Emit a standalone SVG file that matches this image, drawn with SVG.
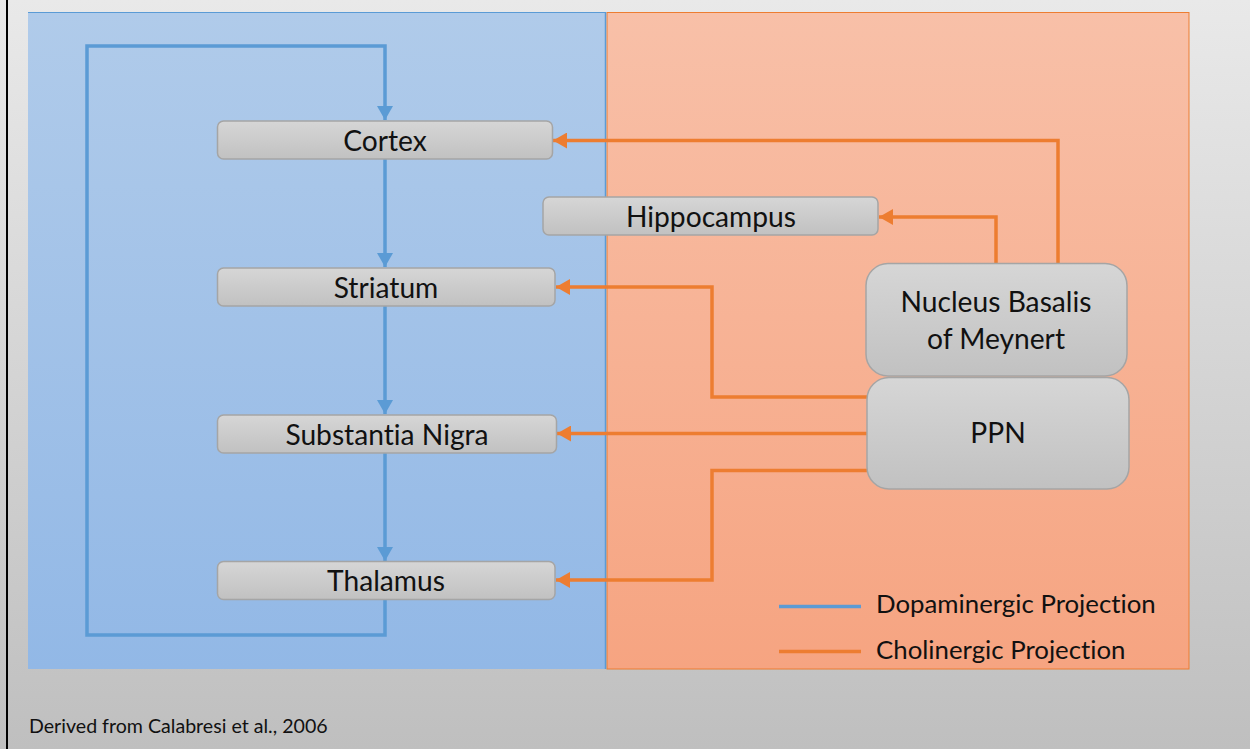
<svg xmlns="http://www.w3.org/2000/svg" width="1250" height="749" viewBox="0 0 1250 749">
<defs>
<linearGradient id="bg" x1="0" y1="0" x2="0" y2="1"><stop offset="0" stop-color="#e9e9e9"/><stop offset="1" stop-color="#bfbfbf"/></linearGradient>
<linearGradient id="bluebg" x1="0" y1="0" x2="0" y2="1"><stop offset="0" stop-color="#b0cbea"/><stop offset="1" stop-color="#92b8e6"/></linearGradient>
<linearGradient id="orbg" x1="0" y1="0" x2="0" y2="1"><stop offset="0" stop-color="#f8c0a8"/><stop offset="1" stop-color="#f6a481"/></linearGradient>
<linearGradient id="node" x1="0" y1="0" x2="0" y2="1"><stop offset="0" stop-color="#d6d6d6"/><stop offset="1" stop-color="#c1c1c1"/></linearGradient>
<marker id="ab" markerUnits="userSpaceOnUse" markerWidth="16" markerHeight="16" refX="14" refY="8" orient="auto"><path d="M0,0 L14,8 L0,16 Z" fill="#5b9bd5"/></marker>
<marker id="ao" markerUnits="userSpaceOnUse" markerWidth="16" markerHeight="16" refX="14" refY="8" orient="auto"><path d="M0,0 L14,8 L0,16 Z" fill="#ed7d31"/></marker>
<style>
text{font-family:Lato,"Liberation Sans",sans-serif;fill:#111;font-variant-ligatures:none}
.nd{fill:url(#node);stroke:#a5a5a5;stroke-width:1.5}
.t{font-size:28.2px;text-anchor:middle}
.bl{fill:none;stroke:#5b9bd5;stroke-width:3.5}
.or{fill:none;stroke:#ed7d31;stroke-width:3.5}
.lg{font-size:25.8px}
</style>
</defs>
<rect x="0" y="0" width="1250" height="749" fill="url(#bg)"/>
<rect x="6" y="0" width="2" height="749" fill="#000"/>
<g id="panels">
<rect x="28" y="12" width="578" height="657" fill="url(#bluebg)"/>
<line x1="28" y1="12.5" x2="606" y2="12.5" stroke="#5b9bd5" stroke-width="1"/>
<rect x="607" y="12.5" width="582" height="656.5" fill="url(#orbg)" stroke="#ed7d31" stroke-width="1"/>
<line x1="605.5" y1="12" x2="605.5" y2="669" stroke="#5b9bd5" stroke-width="1.5"/>
</g>
<g id="connectors">
<path class="bl" d="M385,599 V635 H87 V46 H385 V120" marker-end="url(#ab)"/>
<path class="bl" d="M385,159 V267" marker-end="url(#ab)"/>
<path class="bl" d="M385,306 V414" marker-end="url(#ab)"/>
<path class="bl" d="M385,453 V561" marker-end="url(#ab)"/>
<path class="or" d="M1058,263 V140.5 H553" marker-end="url(#ao)"/>
<path class="or" d="M996,263 V217 H879" marker-end="url(#ao)"/>
<path class="or" d="M867,397 H712 V287 H556" marker-end="url(#ao)"/>
<path class="or" d="M867,433.5 H557" marker-end="url(#ao)"/>
<path class="or" d="M867,470.5 H712 V580 H556" marker-end="url(#ao)"/>
</g>
<g id="cortex"><rect class="nd" x="217.5" y="121" width="335" height="38" rx="6"/><text class="t" x="385" y="150.5">Cortex</text></g>
<g id="hippocampus"><rect class="nd" x="543" y="197" width="335" height="38" rx="6"/><text class="t" x="711" y="226.5">Hippocampus</text></g>
<g id="striatum"><rect class="nd" x="217.5" y="268" width="337.5" height="38" rx="6"/><text class="t" x="386" y="297.5">Striatum</text></g>
<g id="substantia-nigra"><rect class="nd" x="217.5" y="415" width="339" height="38" rx="6"/><text class="t" x="387" y="444.5">Substantia Nigra</text></g>
<g id="thalamus"><rect class="nd" x="217.5" y="561.5" width="337.5" height="38" rx="6"/><text class="t" x="386" y="590.5">Thalamus</text></g>
<g id="nbm"><rect class="nd" x="866" y="263.5" width="261" height="112.5" rx="22"/><text class="t" x="996" y="311.5">Nucleus Basalis</text><text class="t" x="996" y="349">of Meynert</text></g>
<g id="ppn"><rect class="nd" x="867" y="377.5" width="262" height="111.5" rx="22"/><text class="t" x="998" y="443">PPN</text></g>
<g id="legend">
<line x1="779" y1="606.5" x2="861" y2="606.5" stroke="#5b9bd5" stroke-width="3.5"/>
<text class="lg" x="876" y="613">Dopaminergic Projection</text>
<line x1="779" y1="651.5" x2="861" y2="651.5" stroke="#ed7d31" stroke-width="3.5"/>
<text class="lg" x="876" y="658.5">Cholinergic Projection</text>
</g>
<text x="29" y="733" style="font-size:19.6px">Derived from Calabresi et al., 2006</text>
</svg>
